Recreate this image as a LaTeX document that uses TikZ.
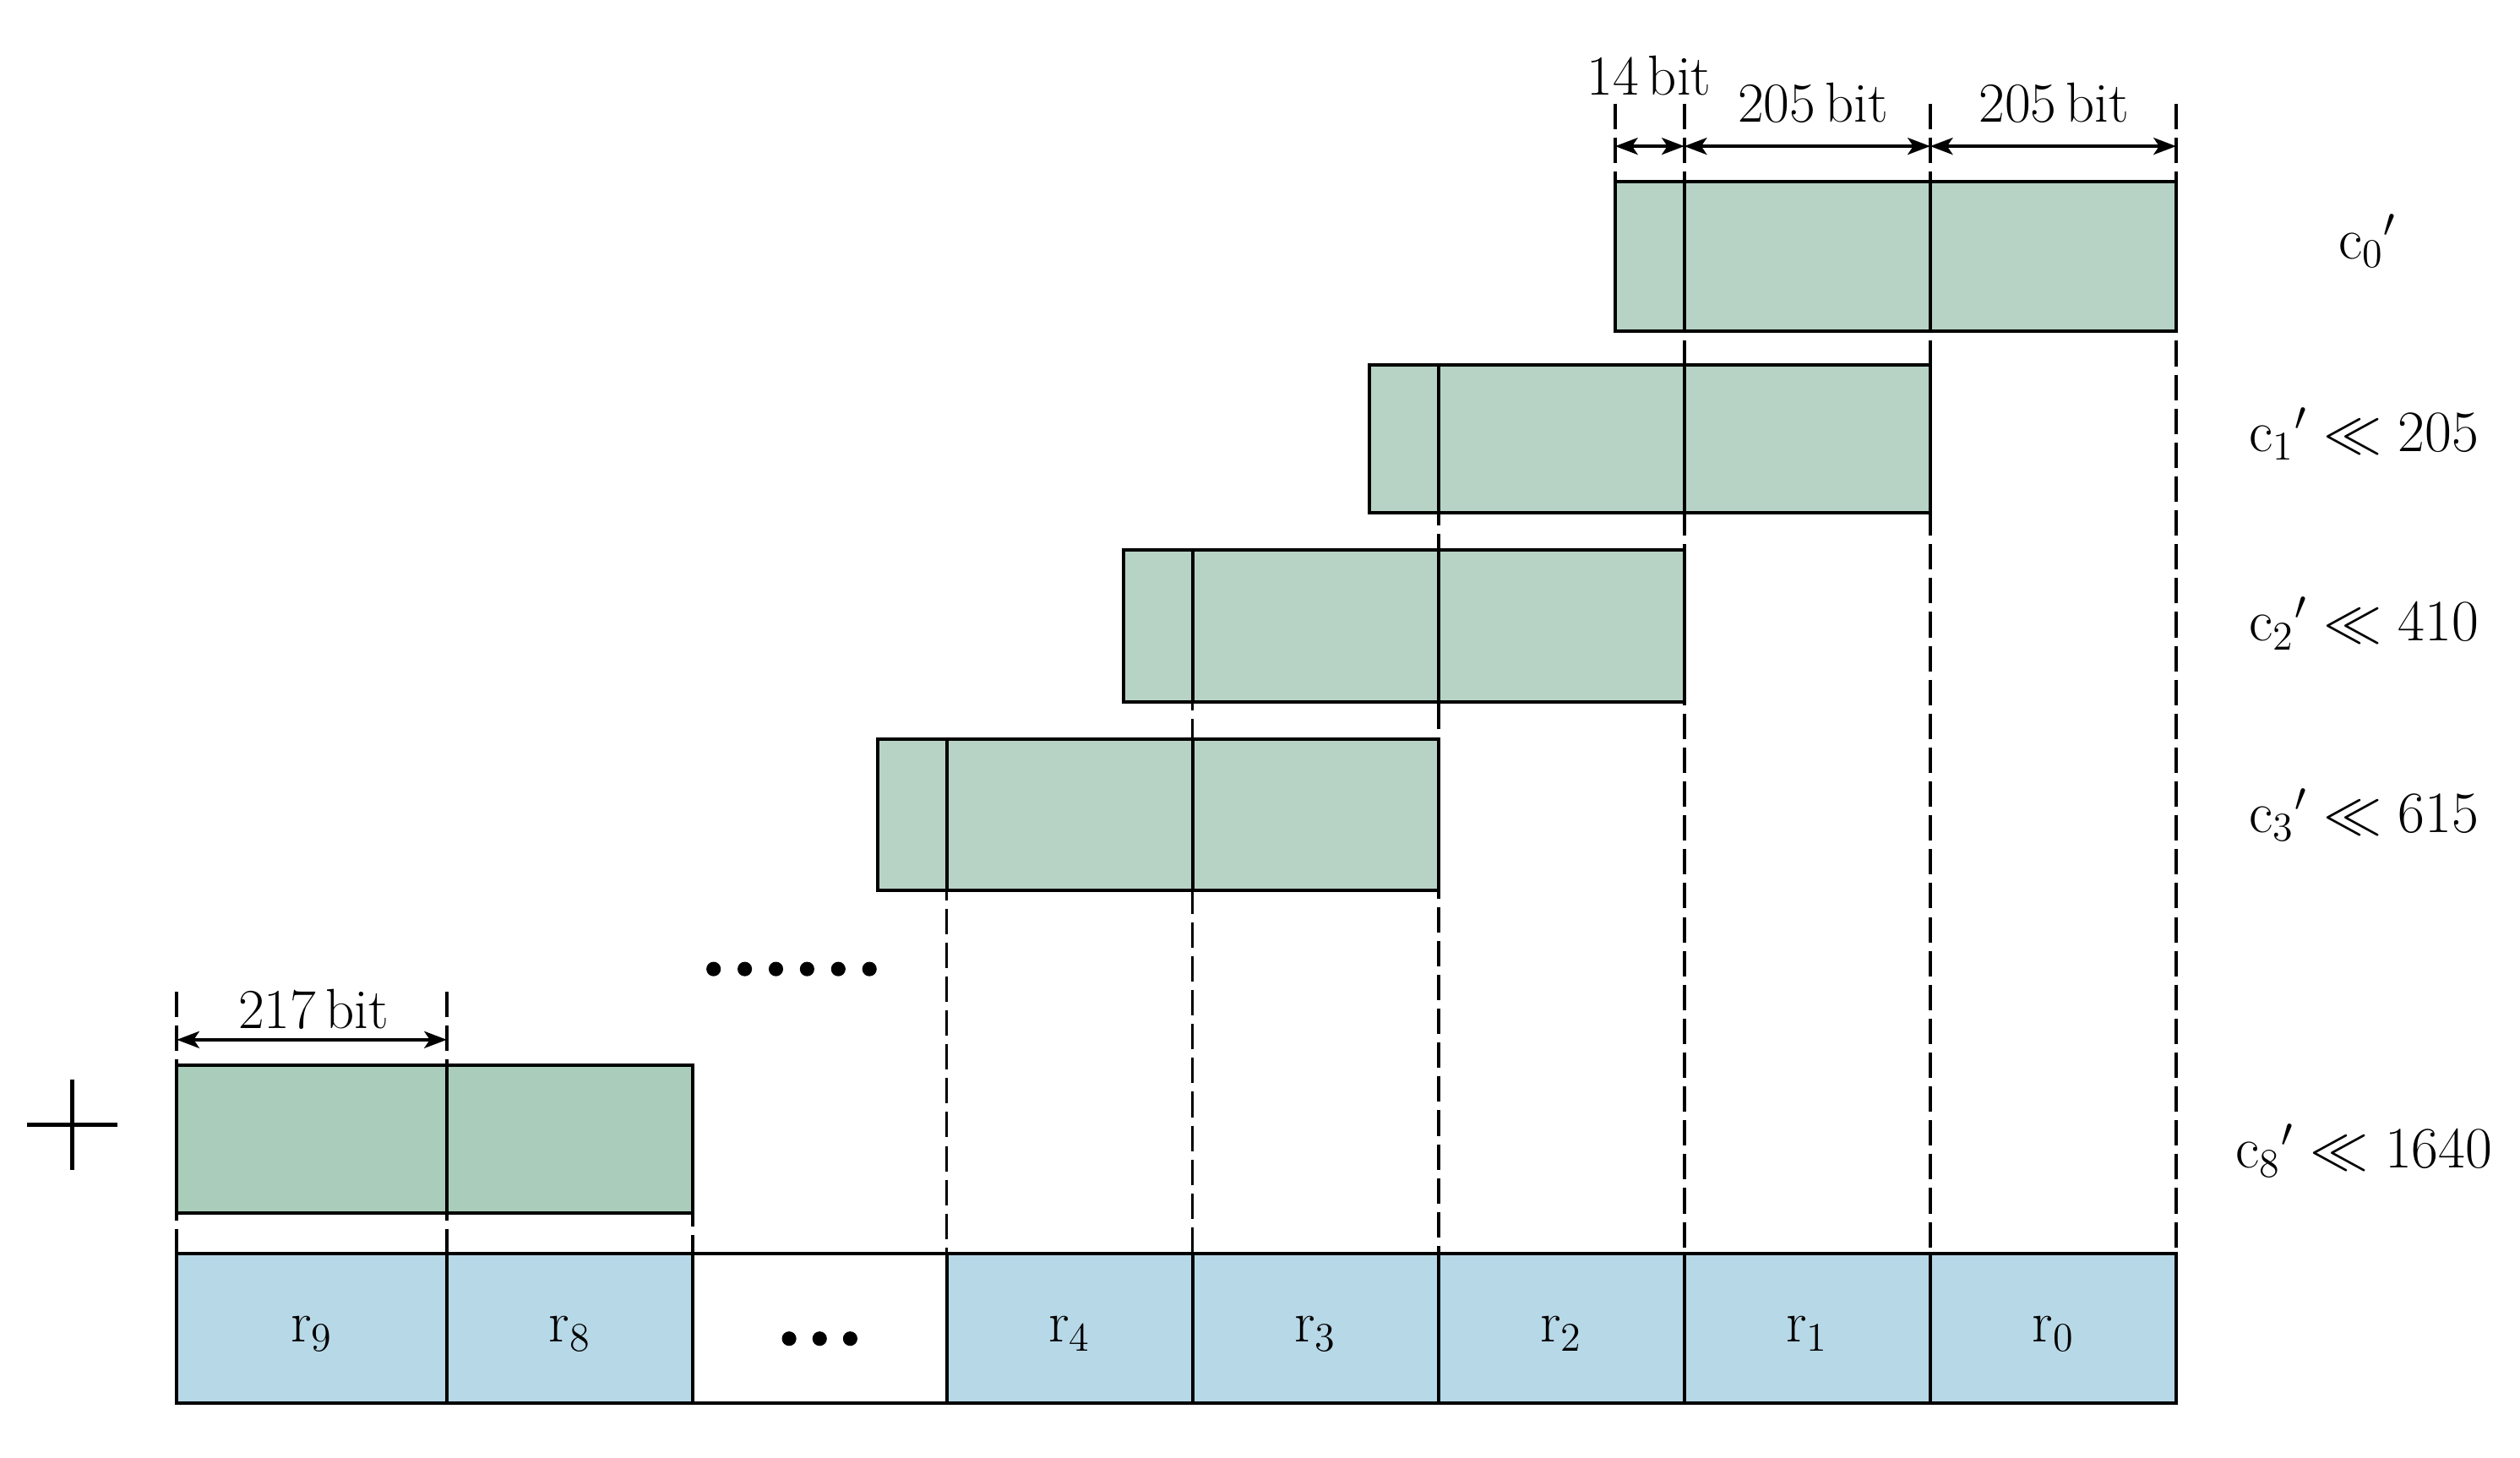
\documentclass[tikz,border=0pt]{standalone}
\usepackage{tikz}
\usetikzlibrary{arrows.meta}
\definecolor{cgreen}{RGB}{183,211,197}
\definecolor{cgreenb}{RGB}{169,205,186}
\definecolor{rblue}{RGB}{183,216,231}

\begin{document}
\begin{tikzpicture}[
		box/.style={draw=black, line width=1.2pt},
		guide/.style={line width=1.1pt, dash pattern=on 9pt off 3pt},
		dim/.style={line width=1pt, {Stealth[length=8pt,width=6pt,inset=2pt]}-{Stealth[length=8pt,width=6pt,inset=2pt]}},
		bitlbl/.style={font=\fontsize{20}{24}\selectfont, inner sep=0pt},
		clbl/.style={font=\fontsize{21}{25}\selectfont, inner sep=0pt},
	]
		%%%%% START %%%%%
		\useasboundingbox (0, 0) rectangle (31.36, 18.14);
		
		% guide lines
		\draw[guide] (20.10, 16.85) -- (20.10, 15.88);
		\draw[guide] (20.96, 16.85) -- (20.96, 2.54);
		\draw[guide] (24.02, 16.85) -- (24.02, 2.54);
		\draw[guide] (27.08, 16.85) -- (27.08, 2.54);
		\draw[guide] (17.90, 13.60) -- (17.90, 2.54);
		\draw[guide] (14.84, 11.30) -- (14.84, 2.54);
		\draw[guide] (11.78, 8.94) -- (11.78, 2.54);
		\draw[guide] (2.20, 5.80) -- (2.20, 2.54);
		\draw[guide] (5.56, 5.80) -- (5.56, 2.54);
		\draw[guide] (8.62, 4.88) -- (8.62, 2.54);
		
		% shifted rows c0' .. c3'
		\foreach \i/\top/\bot in {0/15.88/14.02, 1/13.60/11.76, 2/11.30/9.40, 3/8.94/7.06}{
			\draw[box, fill=cgreen] ({20.10-3.06*\i}, \top) rectangle ({27.08-3.06*\i}, \bot);
			\draw[box] ({20.96-3.06*\i}, \top) -- ({20.96-3.06*\i}, \bot);
			\draw[box] ({24.02-3.06*\i}, \top) -- ({24.02-3.06*\i}, \bot);
		}
		
		% row c8'
		\draw[box, fill=cgreenb] (2.20, 4.88) rectangle (8.62, 3.04);
		\draw[box] (5.56, 4.88) -- (5.56, 3.04);
		
		% result row
		\draw[box, fill=rblue] (2.20, 2.54) rectangle (8.62, 0.68);
		\draw[box] (8.62, 2.54) rectangle (11.78, 0.68);
		\draw[box, fill=rblue] (11.78, 2.54) rectangle (27.08, 0.68);
		\foreach \x in {5.56, 14.84, 17.90, 20.96, 24.02}
			\draw[box] (\x, 2.54) -- (\x, 0.68);
		
		\node[clbl] (r9) at (3.88, 1.54) {$\mathrm{r}_9$};
		\node[clbl] (r8) at (7.09, 1.54) {$\mathrm{r}_8$};
		\node[clbl] (r4) at (13.31, 1.54) {$\mathrm{r}_4$};
		\node[clbl] (r3) at (16.37, 1.54) {$\mathrm{r}_3$};
		\node[clbl] (r2) at (19.43, 1.54) {$\mathrm{r}_2$};
		\node[clbl] (r1) at (22.49, 1.54) {$\mathrm{r}_1$};
		\node[clbl] (r0) at (25.55, 1.54) {$\mathrm{r}_0$};
		
		% dots
		\foreach \k in {0,...,5}
			\fill ({8.88+0.388*\k}, 6.08) circle (0.09);
		\foreach \k in {0,1,2}
			\fill ({9.82+0.38*\k}, 1.48) circle (0.09);
		
		% widths
		\draw[dim] (20.10, 16.32) -- (20.96, 16.32);
		\draw[dim] (20.96, 16.32) -- (24.02, 16.32);
		\draw[dim] (24.02, 16.32) -- (27.08, 16.32);
		\draw[dim] (2.20, 5.20) -- (5.56, 5.20);
		
		\node[bitlbl] (w14) at (20.52, 17.20) {14\,bit};
		\node[bitlbl] (w205a) at (22.56, 16.86) {205\,bit};
		\node[bitlbl] (w205b) at (25.56, 16.86) {205\,bit};
		\node[bitlbl] (w217) at (3.90, 5.58) {217\,bit};
		
		% row labels
		\node[clbl] (c0) at (29.46, 15.14) {$\mathrm{c}_0{}'$};
		\node[clbl] (c1) at (29.42, 12.74) {$\mathrm{c}_1{}' \ll 205$};
		\node[clbl] (c2) at (29.42, 10.38) {$\mathrm{c}_2{}' \ll 410$};
		\node[clbl] (c3) at (29.42, 8.00) {$\mathrm{c}_3{}' \ll 615$};
		\node[clbl] (c8) at (29.42, 3.82) {$\mathrm{c}_8{}' \ll 1640$};
		
		% plus sign
		\draw[line width=1.4pt] (0.34, 4.14) -- (1.46, 4.14);
		\draw[line width=1.4pt] (0.90, 3.58) -- (0.90, 4.70);
		%%%%% END %%%%%
\end{tikzpicture}
\end{document}
